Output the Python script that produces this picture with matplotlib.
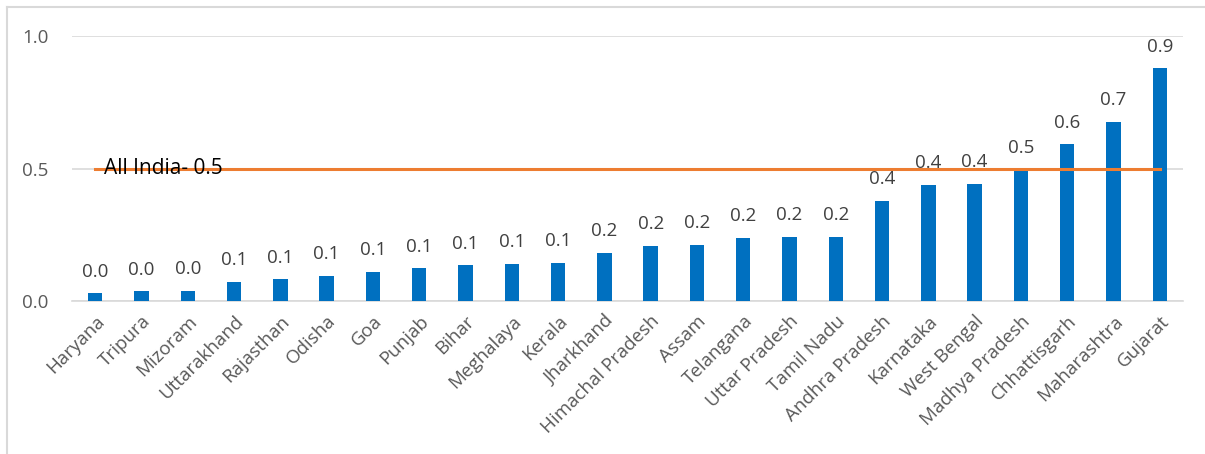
import numpy as np
import matplotlib.pyplot as plt
from matplotlib.lines import Line2D

states = ["Haryana", "Tripura", "Mizoram", "Uttarakhand", "Rajasthan", "Odisha",
          "Goa", "Punjab", "Bihar", "Meghalaya", "Kerala", "Jharkhand",
          "Himachal Pradesh", "Assam", "Telangana", "Uttar Pradesh", "Tamil Nadu",
          "Andhra Pradesh", "Karnataka", "West Bengal", "Madhya Pradesh",
          "Chhattisgarh", "Maharashtra", "Gujarat"]
values = [0.030, 0.036, 0.038, 0.073, 0.082, 0.095, 0.110, 0.123, 0.134, 0.140,
          0.144, 0.182, 0.209, 0.213, 0.239, 0.243, 0.243, 0.379, 0.439, 0.443,
          0.495, 0.592, 0.677, 0.878]
all_india = 0.5
y_ticks = [0.0, 0.5, 1.0]

plt.rcParams["font.family"] = ["Open Sans", "DejaVu Sans"]
grey = "#595959"

fig = plt.figure(figsize=(12.05, 4.54), dpi=100)
ax = fig.add_axes([0.0598, 0.337, 0.9219, 0.5837])

x = np.arange(len(states))
ax.bar(x, values, width=0.31, color="#0070C0", zorder=2)
ax.plot(x, [all_india] * len(x), color="#ED7D31", lw=2.2, zorder=3)
ax.text(0.2, all_india, f"All India- {all_india}", fontsize=15, color="black",
        va="center", ha="left", zorder=4)

for xi, v in zip(x, values):
    ax.annotate(f"{v:.1f}", (xi, v), xytext=(0, 9), textcoords="offset points",
                ha="center", va="bottom", fontsize=13.5, color="#404040")

ax.set_xlim(-0.5, len(states) - 0.5)
ax.set_ylim(0, 1.0)
ax.set_yticks(y_ticks)
ax.set_yticklabels([f"{t:.1f}" for t in y_ticks], fontsize=13.5, color=grey)
ax.set_xticks(x)
ax.set_xticklabels(states, rotation=45, ha="right", rotation_mode="anchor",
                   fontsize=13.5, color=grey)
ax.tick_params(length=0)
ax.tick_params(axis="y", pad=17)
ax.tick_params(axis="x", pad=8)
ax.grid(axis="y", color="#D9D9D9", lw=1.2, zorder=0)
ax.set_axisbelow(True)
for s in ax.spines.values():
    s.set_visible(False)
ax.axhline(0, color="#D9D9D9", lw=1.2, zorder=1, clip_on=False)

# chart border (left and top edges visible)
fig.add_artist(Line2D([7.5 / 1205, 7.5 / 1205], [0, 1 - 6.5 / 454],
                      transform=fig.transFigure, color="#D9D9D9", lw=1.5))
fig.add_artist(Line2D([7.5 / 1205, 1], [1 - 6.5 / 454, 1 - 6.5 / 454],
                      transform=fig.transFigure, color="#D9D9D9", lw=1.5))

fig.savefig("out.png", dpi=100)
